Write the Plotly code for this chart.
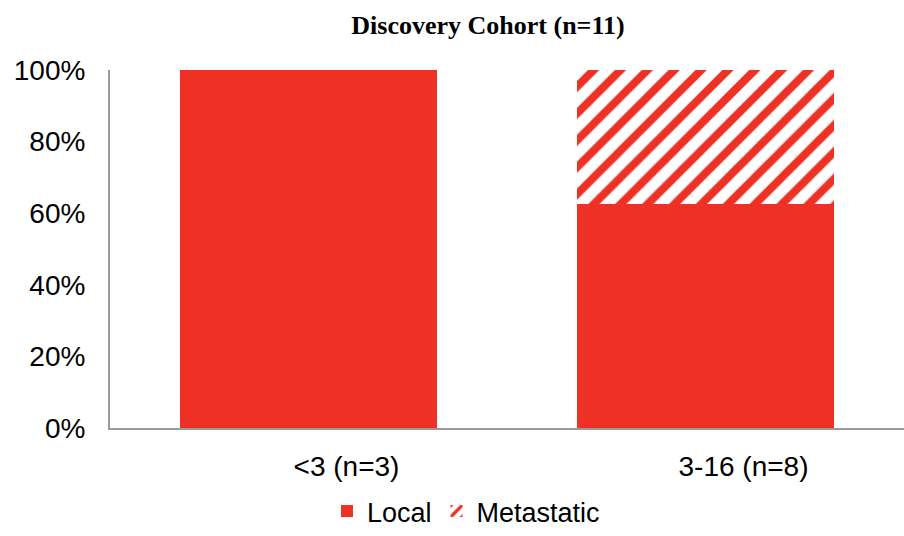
import plotly.graph_objects as go

# Stage distribution by tumour-size group
categories = ["<3 (n=3)", "3-16 (n=8)"]
local_pct = [100, 62.5]
metastatic_pct = [0, 37.5]
y_ticks = [0, 20, 40, 60, 80, 100]
y_tick_text = ["0%", "20%", "40%", "60%", "80%", "100%"]

RED = "#EE3124"
AXIS_GREY = "#9a9a9a"
SANS = "Liberation Sans, Arial, Helvetica, sans-serif"

fig = go.Figure()
fig.add_trace(go.Bar(
    name="Local",
    x=categories,
    y=local_pct,
    marker=dict(color=RED, line=dict(width=0)),
))
fig.add_trace(go.Bar(
    name="Metastatic",
    x=categories,
    y=metastatic_pct,
    marker=dict(
        color="white",
        line=dict(width=0),
        pattern=dict(shape="/", fgcolor=RED, bgcolor="white",
                     size=19, solidity=0.42, fillmode="replace"),
    ),
))

fig.update_layout(
    width=904,
    height=536,
    barmode="stack",
    bargap=0.355,
    paper_bgcolor="white",
    plot_bgcolor="white",
    margin=dict(l=110, r=0, t=70, b=108),
    title=dict(
        text="<b>Discovery Cohort (n=11)</b>",
        font=dict(family="Liberation Serif, Times New Roman, serif", size=26, color="black"),
        x=488 / 904, xref="container", xanchor="center",
        y=1 - 25 / 536, yref="container", yanchor="middle",
    ),
    showlegend=True,
    legend=dict(
        orientation="h",
        traceorder="normal",
        x=466 / 904, xref="container", xanchor="center",
        y=0, yref="container", yanchor="bottom",
        font=dict(family=SANS, size=27, color="black"),
        itemwidth=30,
        tracegroupgap=0,
    ),
    font=dict(family=SANS, size=27, color="black"),
)

fig.update_xaxes(
    type="category",
    range=[-0.5, 1.5],
    showline=True, linecolor=AXIS_GREY, linewidth=2,
    ticks="", showgrid=False,
    tickfont=dict(family=SANS, size=28, color="black"),
    ticklabelshift=38,
    ticklabelstandoff=12,
)
fig.update_yaxes(
    range=[0, 100],
    tickvals=y_ticks,
    ticktext=y_tick_text,
    showline=True, linecolor=AXIS_GREY, linewidth=2,
    ticks="", showgrid=False, zeroline=False,
    tickfont=dict(family=SANS, size=28, color="black"),
    ticklabelstandoff=17,
)

fig.write_html("out.html")
